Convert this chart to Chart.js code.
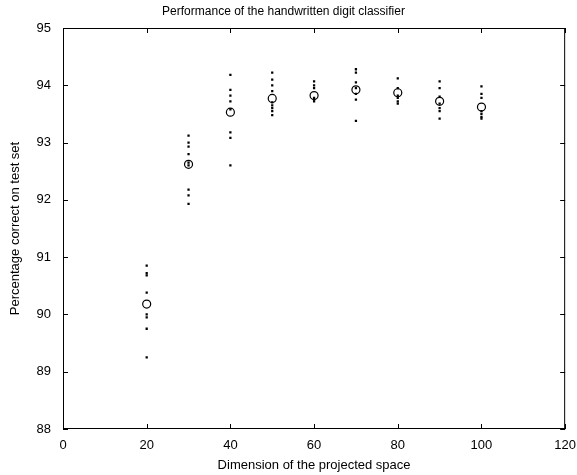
<!DOCTYPE html>
<html>
<head>
<meta charset="utf-8">
<script src="https://cdn.jsdelivr.net/npm/chart.js@4/dist/chart.umd.min.js"></script>
<style>
  html, body { margin: 0; padding: 0; background: #fff; }
  #wrap { width: 577px; height: 475px; }
</style>
</head>
<body>
<div id="wrap"><canvas id="perfChart" width="577" height="475"></canvas></div>
<script>
// projected space dimensions
const dims = [20, 30, 40, 50, 60, 70, 80, 90, 100];

// percentage correct for each run, per dimension
const acc20 = [90.85, 90.72, 90.68, 90.38, 90.0, 89.95, 89.75, 89.25];
const acc30 = [93.12, 93.0, 92.93, 92.8, 92.65, 92.6, 92.18, 92.08, 91.93];
const acc40 = [94.18, 93.92, 93.82, 93.72, 93.58, 93.18, 93.08, 92.6];
const acc50 = [94.22, 94.1, 94.0, 93.9, 93.7, 93.65, 93.6, 93.55, 93.48];
const acc60 = [94.07, 94.0, 93.95, 93.78, 93.75, 93.72];
const acc70 = [94.28, 94.22, 94.05, 93.95, 93.85, 93.75, 93.38];
const acc80 = [94.12, 93.95, 93.82, 93.78, 93.72, 93.68];
const acc90 = [94.07, 93.95, 93.8, 93.68, 93.6, 93.55, 93.42];
const acc100 = [93.98, 93.85, 93.78, 93.55, 93.5, 93.45, 93.42];

// mean of the runs (circles)
const meanAcc = [90.18, 92.62, 93.53, 93.77, 93.82, 93.92, 93.87, 93.72, 93.62];

const xTicks = [0, 20, 40, 60, 80, 100, 120];
const yTicks = [88, 89, 90, 91, 92, 93, 94, 95];

const allRuns = [acc20, acc30, acc40, acc50, acc60, acc70, acc80, acc90, acc100];
const runPoints = [];
allRuns.forEach((runs, i) => {
    runs.forEach(v => runPoints.push({ x: dims[i], y: v }));
});
const meanPoints = meanAcc.map((v, i) => ({ x: dims[i], y: v }));

// box around plot + inward ticks like matlab
const boxPlugin = {
    id: 'box',
    afterDraw(chart) {
        const { ctx, chartArea: a, scales } = chart;
        ctx.save();
        ctx.strokeStyle = '#000';
        ctx.lineWidth = 1;
        ctx.strokeRect(a.left + 0.5, a.top + 0.5, a.right - a.left - 1, a.bottom - a.top - 1);
        const len = 5;
        ctx.beginPath();
        xTicks.forEach(t => {
            const px = Math.round(scales.x.getPixelForValue(t)) + 0.5;
            ctx.moveTo(px, a.bottom); ctx.lineTo(px, a.bottom - len);
            ctx.moveTo(px, a.top); ctx.lineTo(px, a.top + len);
        });
        yTicks.forEach(t => {
            const py = Math.round(scales.y.getPixelForValue(t)) + 0.5;
            ctx.moveTo(a.left, py); ctx.lineTo(a.left + len, py);
            ctx.moveTo(a.right, py); ctx.lineTo(a.right - len, py);
        });
        ctx.stroke();
        ctx.restore();
    }
};

const font = { family: 'Liberation Sans, Arial, sans-serif', size: 13 };

new Chart(document.getElementById('perfChart'), {
    type: 'scatter',
    data: {
        datasets: [
            {
                label: 'runs',
                data: runPoints,
                pointStyle: 'rect',
                pointRadius: 1.6,
                backgroundColor: '#000',
                borderColor: '#000',
                borderWidth: 0
            },
            {
                label: 'mean',
                data: meanPoints,
                pointStyle: 'circle',
                pointRadius: 4,
                backgroundColor: 'rgba(0,0,0,0)',
                borderColor: '#000',
                borderWidth: 1.2
            }
        ]
    },
    options: {
        responsive: false,
        animation: false,
        layout: { padding: { left: 0, right: 10, top: 0, bottom: 0 } },
        plugins: {
            legend: { display: false },
            tooltip: { enabled: false },
            title: {
                display: true,
                text: 'Performance of the handwritten digit classifier',
                color: '#000',
                font: { family: font.family, size: 12, weight: 'normal' },
                padding: { top: 4, bottom: 9.6 }
            }
        },
        scales: {
            x: {
                type: 'linear',
                min: 0,
                max: 120,
                afterFit(s) { s.height = 46; },
                afterBuildTicks(s) { s.ticks = xTicks.map(v => ({ value: v })); },
                grid: { display: false },
                border: { display: false },
                ticks: { color: '#000', font: font, padding: 1, maxRotation: 0 },
                title: {
                    display: true,
                    text: 'Dimension of the projected space',
                    color: '#000',
                    font: font,
                    padding: { top: 0, bottom: 2 }
                }
            },
            y: {
                type: 'linear',
                min: 88,
                max: 95,
                afterFit(s) { s.width = 63; },
                afterBuildTicks(s) { s.ticks = yTicks.map(v => ({ value: v })); },
                grid: { display: false },
                border: { display: false },
                ticks: { color: '#000', font: font, padding: 4 },
                title: {
                    display: true,
                    text: 'Percentage correct on test set',
                    color: '#000',
                    font: font,
                    padding: { top: 8, bottom: 0 }
                }
            }
        }
    },
    plugins: [boxPlugin]
});
</script>
</body>
</html>
